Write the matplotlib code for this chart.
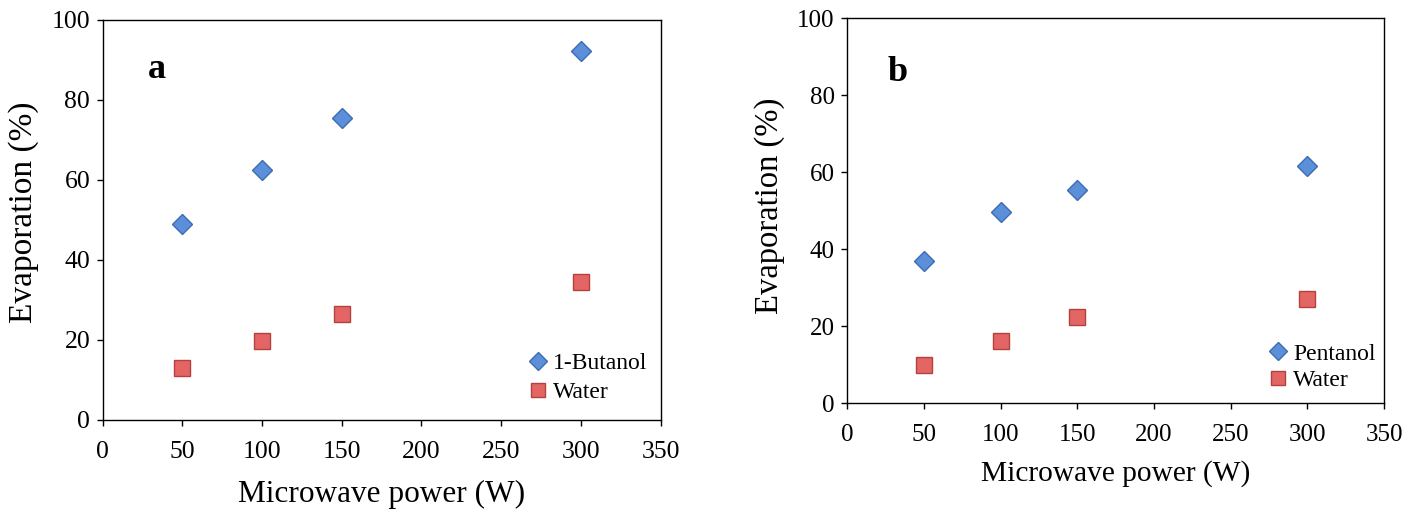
import matplotlib
matplotlib.use("Agg")
import matplotlib.pyplot as plt

plt.rcParams['font.family'] = ['Liberation Serif', 'DejaVu Serif']

power = [50, 100, 150, 300]

# panel a
butanol = [49.0, 62.6, 75.4, 92.3]
water_a = [13.1, 19.7, 26.5, 34.5]

# panel b
pentanol = [37.0, 49.7, 55.4, 61.7]
water_b = [9.9, 16.3, 22.3, 27.0]

blue_face = '#5b8fd9'
blue_edge = '#3d6cb0'
red_face = '#e36664'
red_edge = '#b3423f'

fig = plt.figure(figsize=(14.15, 5.09), dpi=100)
ax_a = fig.add_axes([0.0726, 0.1749, 0.3942, 0.7859])
ax_b = fig.add_axes([0.5988, 0.2077, 0.3793, 0.7564])


def style_axes(ax, tick_size, xlabel_size, ylabel_size, pad_x, pad_y, ylab_y):
    ax.set_xlim(0, 350)
    ax.set_ylim(0, 100)
    ax.set_xticks(range(0, 351, 50))
    ax.set_yticks(range(0, 101, 20))
    ax.tick_params(direction='out', length=4, width=1, labelsize=tick_size,
                   pad=5)
    ax.tick_params(axis='x', pad=11)
    for s in ax.spines.values():
        s.set_linewidth(1.0)
        s.set_color('black')
    ax.set_xlabel('Microwave power (W)', fontsize=xlabel_size, labelpad=pad_x)
    ax.set_ylabel('Evaporation (%)', fontsize=ylabel_size, labelpad=pad_y)
    ax.yaxis.label.set_y(ylab_y)


def draw_panel(ax, alcohol, water, alcohol_name, letter, letter_xy, leg_xy, spacing):
    ax.plot(power, alcohol, linestyle='none', marker='D', ms=10.5,
            mfc=blue_face, mec=blue_edge, mew=1.0, label=alcohol_name)
    ax.plot(power, water, linestyle='none', marker='s', ms=11,
            mfc=red_face, mec=red_edge, mew=1.0, label='Water')
    ax.text(letter_xy[0], letter_xy[1], letter, fontsize=26, fontweight='bold',
            ha='center', va='center')
    ax.legend(loc='center left', bbox_to_anchor=leg_xy, frameon=False,
              fontsize=17, handlelength=1.0, handletextpad=0.15,
              labelspacing=spacing, borderpad=0, borderaxespad=0,
              markerscale=0.9)


style_axes(ax_a, 18.5, 22.5, 24, 12, 9, 0.52)
style_axes(ax_b, 18, 21.2, 23.5, 10, 9, 0.514)

draw_panel(ax_a, butanol, water_a, '1-Butanol', 'a', (34, 87.5), (0.759, 0.105), 0.3)
draw_panel(ax_b, pentanol, water_b, 'Pentanol', 'b', (32.5, 85.8), (0.780, 0.094), 0.2)

fig.savefig('out.png', dpi=100)
